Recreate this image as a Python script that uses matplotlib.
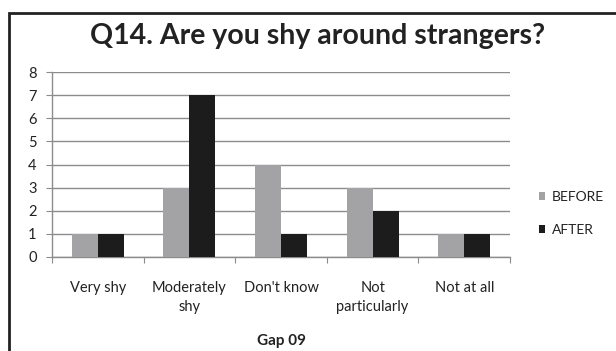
import matplotlib
matplotlib.use("Agg")
import matplotlib.pyplot as plt
from matplotlib.patches import Rectangle
import numpy as np

categories = ["Very shy", "Moderately\nshy", "Don't know", "Not\nparticularly", "Not at all"]
before = [1, 3, 4, 3, 1]
after = [1, 7, 1, 2, 1]
series_names = ["BEFORE", "AFTER"]
yticks = [0, 1, 2, 3, 4, 5, 6, 7, 8]

plt.rcParams['font.family'] = ['Lato', 'DejaVu Sans']

W, H = 616, 351
fig = plt.figure(figsize=(W / 100, H / 100), dpi=100)
fig.patch.set_facecolor("white")

# outer frame of the chart box (runs off the right and bottom edges)
fig.add_artist(Rectangle((9 / W, -0.05), 1.2, 1 - 13 / H + 0.05,
                         transform=fig.transFigure, fill=False,
                         edgecolor="#222222", linewidth=2))

left, right = 52 / W, 510 / W
bottom, top = 1 - 257 / H, 1 - 72 / H
ax = fig.add_axes([left, bottom, right - left, top - bottom])

x = np.arange(len(categories))
bw = 0.283
ax.bar(x - bw / 2, before, width=bw, color="#a3a3a5", label=series_names[0], zorder=3)
ax.bar(x + bw / 2, after, width=bw, color="#1c1c1c", label=series_names[1], zorder=3)

ax.set_xlim(-0.5, len(categories) - 0.5)
ax.set_ylim(0, 8)
ax.set_yticks(yticks)
ax.yaxis.grid(True, color="#8c8c8c", linewidth=1.0, zorder=0)
ax.set_axisbelow(True)

for s in ["top", "right"]:
    ax.spines[s].set_visible(False)
for s in ["left", "bottom"]:
    ax.spines[s].set_color("#8c8c8c")
    ax.spines[s].set_linewidth(1.0)

ax.set_xticks(np.arange(len(categories) + 1) - 0.5, minor=False)
ax.set_xticklabels([])
ax.tick_params(axis="x", length=4, color="#8c8c8c", direction="out")
ax.set_xticks(x, minor=True)
ax.set_xticklabels(categories, minor=True, fontsize=10.5, color="#222222")
ax.tick_params(axis="x", which="minor", length=0, pad=17)
ax.tick_params(axis="y", length=4, color="#8c8c8c", labelsize=10.5, labelcolor="#222222", pad=7)
for lbl in ax.get_xticklabels(minor=True):
    lbl.set_linespacing(1.5)

ax.set_xlabel("Gap 09", fontsize=11, fontweight="bold", color="#222222", labelpad=14)

fig.text(318 / W, 1 - 36 / H, "Q14. Are you shy around strangers?",
         ha="center", va="center", fontsize=20.5, fontweight="bold", color="#222222")

leg = ax.legend(loc="center left", bbox_to_anchor=(1.035, 0.235), frameon=False,
                fontsize=10, handlelength=0.5, handleheight=0.5,
                handletextpad=0.45, labelspacing=1.5)
for t in leg.get_texts():
    t.set_color("#222222")

fig.savefig("out.png", dpi=100, facecolor="white")
